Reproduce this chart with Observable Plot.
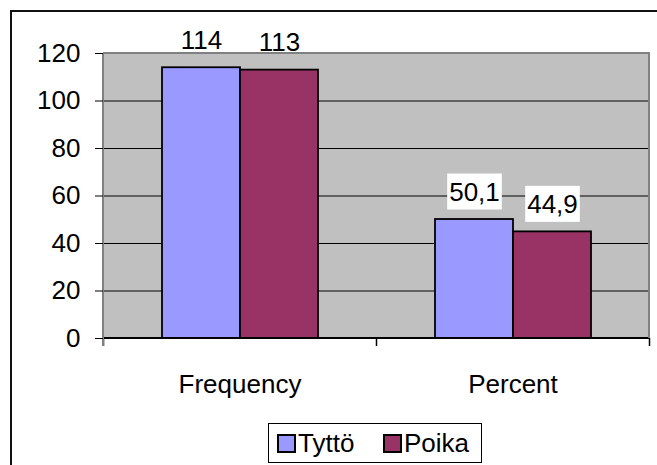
<!DOCTYPE html>
<html>
<head>
<meta charset="utf-8">
<script src="https://cdn.jsdelivr.net/npm/d3@7"></script>
<script src="https://cdn.jsdelivr.net/npm/@observablehq/plot@0.6"></script>
<style>
  html, body { margin: 0; padding: 0; background: #fff; }
  #wrap { position: relative; width: 657px; height: 465px; overflow: hidden; }
  #outer { position: absolute; left: 10px; top: 10px; width: 720px; height: 520px; border: 2px solid #111; background: #fff; }
  #chart { position: absolute; left: 0; top: 0; }
  #legend { position: absolute; left: 268px; top: 423px; width: 214px; height: 40px; box-sizing: border-box;
    border: 1.5px solid #000; display: flex; align-items: center; padding-left: 8px;
    font: 26px "Liberation Sans", Arial, sans-serif; color: #000; background: #fff; }
  .item { display: flex; align-items: center; }
  .item:first-child { width: 106px; }
  .sw { width: 19px; height: 19px; box-sizing: border-box; border: 2px solid #000; margin-right: 2px; }
</style>
</head>
<body>
<div id="wrap">
  <div id="outer"></div>
  <div id="chart"></div>
  <div id="legend"></div>
</div>
<script>
const categories = ["Frequency", "Percent"];
const series = ["Tyttö", "Poika"];
const tytto = [114, 50.1];
const poika = [113, 44.9];
const yTicks = [0, 20, 40, 60, 80, 100, 120];
const colors = ["#9999FF", "#993366"];

const data = categories.flatMap((c, i) => [
  {category: c, series: series[0], value: tytto[i]},
  {category: c, series: series[1], value: poika[i]}
]);

const fmt = new Intl.NumberFormat("fi-FI", {maximumFractionDigits: 1});
const FS = 26;

// plot-area borders, zero line and category boundary ticks, drawn once over the whole plot
const borders = Plot.frame({
  facet: "super",
  render(index, scales, values, dims) {
    const g = d3.create("svg:g").attr("fill", "none");
    const y0 = scales.y(0), yTop = scales.y(120);
    const l = dims.marginLeft, r = dims.width - dims.marginRight;
    const edges = scales.fx ? categories.map(c => scales.fx(c)).concat([r]) : [l, r];
    g.append("line").attr("x1", l).attr("x2", r).attr("y1", y0).attr("y2", y0)
      .attr("stroke", "#000").attr("stroke-width", 2);
    for (const x of edges) {
      g.append("line").attr("x1", x + 0.5).attr("x2", x + 0.5).attr("y1", y0).attr("y2", y0 + 8)
        .attr("stroke", "#000").attr("stroke-width", 1.5);
    }
    g.append("line").attr("x1", l).attr("x2", l).attr("y1", yTop).attr("y2", y0 + 8)
      .attr("stroke", "#808080").attr("stroke-width", 2);
    g.append("line").attr("x1", r).attr("x2", r).attr("y1", yTop).attr("y2", y0)
      .attr("stroke", "#808080").attr("stroke-width", 2);
    g.append("line").attr("x1", l).attr("x2", r + 1).attr("y1", yTop).attr("y2", yTop)
      .attr("stroke", "#808080").attr("stroke-width", 2);
    return g.node();
  }
});

const chart = Plot.plot({
  width: 657,
  height: 420,
  marginLeft: 103,
  marginRight: 8,
  marginTop: 53,
  marginBottom: 82,
  style: {background: "transparent", fontFamily: "'Liberation Sans', Arial, sans-serif", fontSize: FS + "px", color: "#000", overflow: "visible"},
  fx: {domain: categories, padding: 0, label: null},
  x: {domain: series, paddingInner: 0, paddingOuter: 0.739, axis: null},
  y: {domain: [0, 120], label: null},
  color: {domain: series, range: colors},
  marks: [
    Plot.frame({facet: "super", fill: "#c0c0c0", stroke: null}),
    Plot.gridY(yTicks.filter(t => t > 0 && t < 120), {stroke: "#000", strokeOpacity: 1, strokeWidth: 1}),
    Plot.barY(data, {fx: "category", x: "series", y: "value", fill: "series", stroke: "#000", strokeWidth: 1.8}),
    Plot.text(data, {fx: "category", x: "series", y: "value", text: d => fmt.format(d.value),
      lineAnchor: "bottom", dy: -19, fill: "#000", fontSize: FS, className: "vlabel"}),
    borders,
    Plot.axisY({ticks: yTicks, tickSize: 8, tickPadding: 15, stroke: "#000", fontSize: FS, label: null}),
    Plot.axisFx({anchor: "bottom", tickSize: 0, tickPadding: 36, fontSize: FS, label: null})
  ]
});

document.getElementById("chart").appendChild(chart);

// white boxes behind value labels that sit inside the plot area
const plotTop = chart.scale("y").apply(120);
const svgTop = chart.getBoundingClientRect().top;
document.querySelectorAll(".vlabel text").forEach(t => {
  const b = t.getBBox();
  if (t.getBoundingClientRect().top - svgTop - 3 < plotTop) return;
  const rect = document.createElementNS("http://www.w3.org/2000/svg", "rect");
  rect.setAttribute("x", b.x - 2);
  rect.setAttribute("y", b.y - 3);
  rect.setAttribute("width", b.width + 4);
  rect.setAttribute("height", b.height + 6);
  rect.setAttribute("fill", "#fff");
  rect.setAttribute("stroke", "none");
  const tr = t.getAttribute("transform");
  if (tr) rect.setAttribute("transform", tr);
  t.parentNode.insertBefore(rect, t);
});

// legend
const legend = d3.select("#legend");
series.forEach((s, i) => {
  const item = legend.append("div").attr("class", "item");
  item.append("div").attr("class", "sw").style("background", colors[i]);
  item.append("span").text(s);
});
</script>
</body>
</html>
